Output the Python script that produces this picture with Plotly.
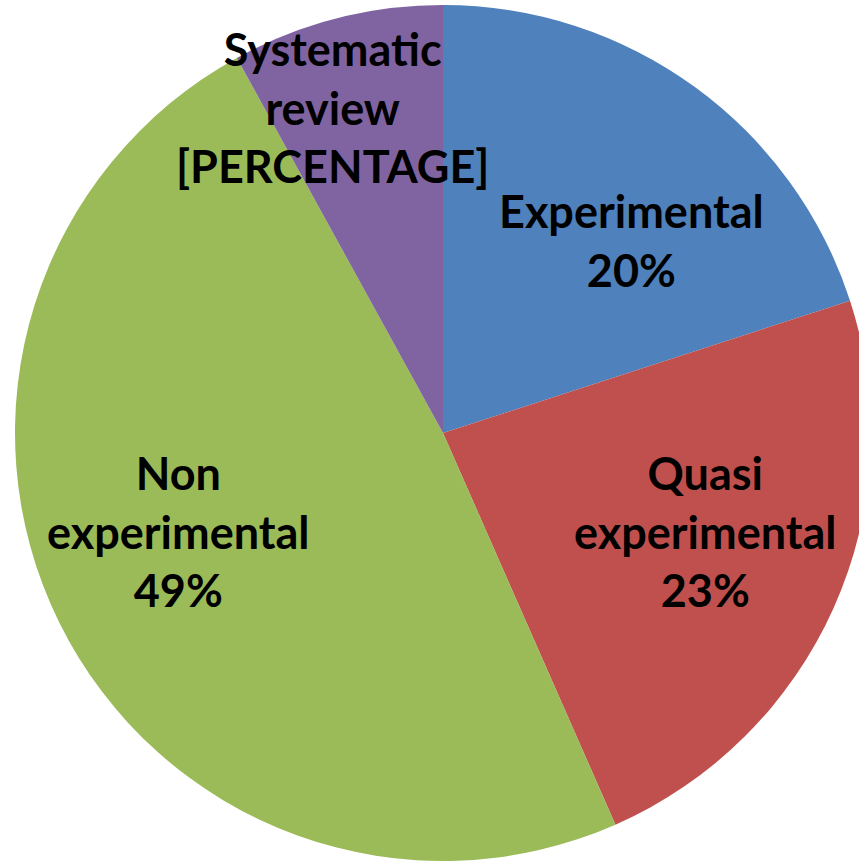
import plotly.graph_objects as go

categories = ["Experimental", "Quasi experimental", "Non experimental", "Systematic review"]
values = [20, 23.4, 48.6, 8]
colors = ["#4F81BD", "#C0504D", "#9BBB59", "#8064A2"]
label_names = ["Experimental", "Quasi<br>experimental", "Non<br>experimental", "Systematic<br>review"]
# the last label shows a literal placeholder in the source chart
label_values = [f"{round(v)}%" for v in values[:3]] + ["[PERCENTAGE]"]
label_texts = [f"{n}<br>{v}" for n, v in zip(label_names, label_values)]

W, H = 886, 861
TOP = 5
# label centre positions in pixels (page coordinates)
label_px = [(631, 241), (705, 531), (178, 531), (332, 108)]

fig = go.Figure(go.Pie(
    labels=categories,
    values=values,
    sort=False,
    direction="clockwise",
    rotation=0,
    marker=dict(colors=colors, line=dict(width=0)),
    textinfo="none",
    hoverinfo="label+percent",
    showlegend=False,
    domain=dict(x=[0, 1], y=[0, 1]),
))

for txt, (px, py) in zip(label_texts, label_px):
    fig.add_annotation(
        x=px / W, y=1 - (py - TOP) / (H - TOP),
        xref="paper", yref="paper",
        text=txt, showarrow=False,
        font=dict(family="Lato, 'Liberation Sans', sans-serif", size=45, color="black", weight="bold"),
        align="center", xanchor="center", yanchor="middle",
    )

fig.update_layout(
    width=W, height=H,
    margin=dict(l=0, r=0, t=TOP, b=0),
    paper_bgcolor="white",
    plot_bgcolor="white",
)

fig.write_html("out.html",
               config={"displayModeBar": False},
               post_script="document.body.style.margin='0';document.body.style.overflow='hidden';document.documentElement.style.overflow='hidden';")
